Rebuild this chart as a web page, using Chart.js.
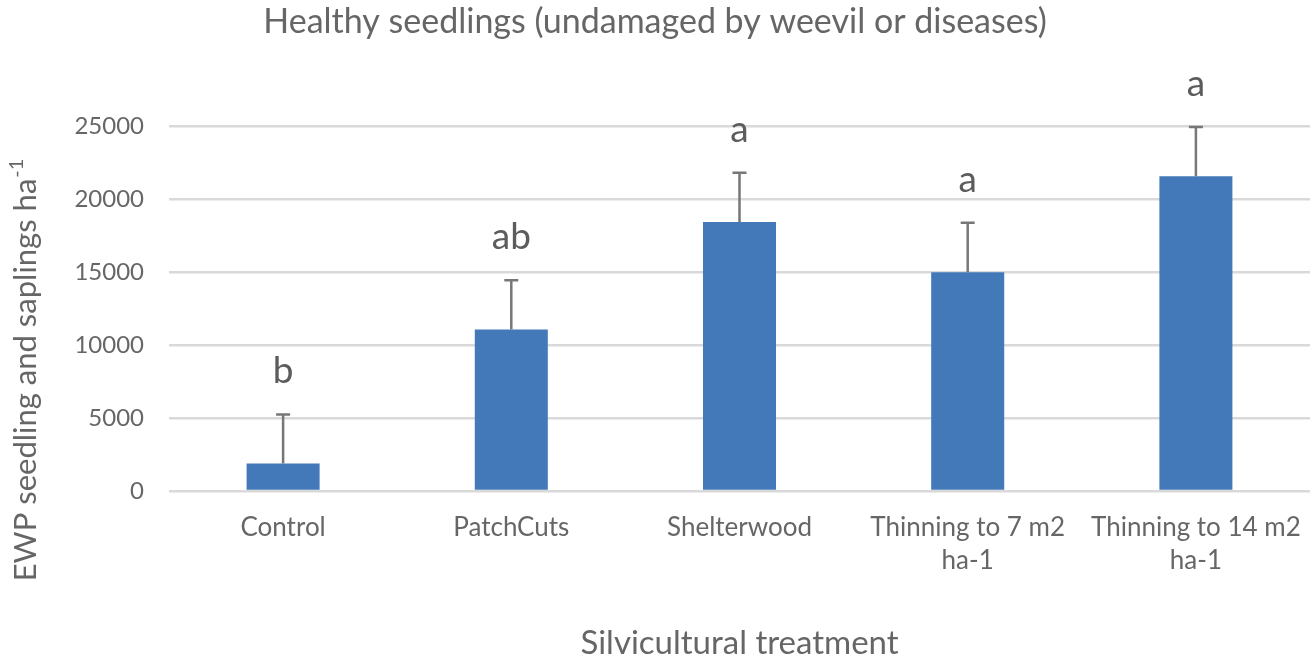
<!DOCTYPE html>
<html>
<head>
<meta charset="utf-8">
<script src="https://cdn.jsdelivr.net/npm/chart.js@4/dist/chart.umd.min.js"></script>
<style>
  html, body { margin: 0; padding: 0; background: #ffffff; }
  #wrap { width: 1312px; height: 671px; position: relative; }
</style>
</head>
<body>
<div id="wrap"><canvas id="c" width="1312" height="671"></canvas></div>
<script>
const categories = ["Control", "PatchCuts", "Shelterwood", ["Thinning to 7 m2", "ha-1"], ["Thinning to 14 m2", "ha-1"]];
const means = [1880, 11060, 18420, 14970, 21550];
const stdErrors = [3360, 3360, 3360, 3400, 3360];
const letters = ["b", "ab", "a", "a", "a"];
const yTicks = [0, 5000, 10000, 15000, 20000, 25000];

const FONT = "Lato, 'Open Sans', sans-serif";
const TEXT = "#666666";

const overlay = {
  id: "overlay",
  afterDatasetsDraw(chart) {
    const ctx = chart.ctx;
    const x = chart.scales.x, y = chart.scales.y;
    ctx.save();
    ctx.strokeStyle = "#777777";
    ctx.lineWidth = 2.5;
    means.forEach((m, i) => {
      const cx = x.getPixelForValue(i);
      const y0 = y.getPixelForValue(m);
      const y1 = y.getPixelForValue(m + stdErrors[i]);
      ctx.beginPath();
      ctx.moveTo(cx, y0);
      ctx.lineTo(cx, y1);
      ctx.moveTo(cx - 7, y1);
      ctx.lineTo(cx + 7, y1);
      ctx.stroke();
      ctx.fillStyle = "#5c5c5c";
      ctx.font = "37px " + FONT;
      ctx.textAlign = "center";
      ctx.textBaseline = "alphabetic";
      ctx.fillText(letters[i], cx, y1 - 31);
    });
    // y-axis title with superscript
    ctx.translate(36, 370);
    ctx.rotate(-Math.PI / 2);
    ctx.fillStyle = TEXT;
    const main = "EWP seedling and saplings ha";
    const sup = "-1";
    ctx.font = "31px " + FONT;
    const wMain = ctx.measureText(main).width;
    ctx.font = "20px " + FONT;
    const wSup = ctx.measureText(sup).width;
    const total = wMain + wSup + 1;
    ctx.textAlign = "left";
    ctx.textBaseline = "alphabetic";
    ctx.font = "31px " + FONT;
    ctx.fillText(main, -total / 2, 0);
    ctx.font = "20px " + FONT;
    ctx.fillText(sup, -total / 2 + wMain + 1, -13);
    ctx.restore();
  }
};

new Chart(document.getElementById("c"), {
  type: "bar",
  data: {
    labels: categories,
    datasets: [{
      data: means,
      backgroundColor: "#4379b9",
      borderWidth: 0,
      barPercentage: 1,
      categoryPercentage: 0.32
    }]
  },
  options: {
    responsive: false,
    animation: false,
    devicePixelRatio: 1,
    layout: { padding: { left: 0, right: 2, top: 0, bottom: 0 } },
    plugins: {
      legend: { display: false },
      tooltip: { enabled: false },
      title: {
        display: true,
        text: "Healthy seedlings (undamaged by weevil or diseases)",
        color: TEXT,
        font: { family: FONT, size: 34, weight: "normal" },
        padding: { top: 2, bottom: 83 }
      }
    },
    scales: {
      x: {
        grid: { display: false, drawTicks: false },
        border: { display: false },
        ticks: {
          color: TEXT,
          font: { family: FONT, size: 26, lineHeight: 1.27 },
          padding: 20,
          maxRotation: 0,
          autoSkip: false
        },
        title: {
          display: true,
          text: "Silvicultural treatment",
          color: TEXT,
          font: { family: FONT, size: 33, weight: "normal" },
          padding: { top: 0, bottom: 8 }
        },
        afterFit(scale) { scale.height = 180; scale.paddingLeft = 0; scale.paddingRight = 0; }
      },
      y: {
        min: 0,
        max: 25000,
        afterBuildTicks(scale) { scale.ticks = yTicks.map(v => ({ value: v })); },
        grid: { color: "#d9d9d9", lineWidth: 2.5, drawTicks: false },
        border: { display: false },
        ticks: {
          color: TEXT,
          font: { family: FONT, size: 24 },
          padding: 25,
          callback: v => String(v)
        },
        afterFit(scale) { scale.width = 169; scale.paddingTop = 0; scale.paddingBottom = 0; }
      }
    }
  },
  plugins: [overlay]
});
</script>
</body>
</html>
